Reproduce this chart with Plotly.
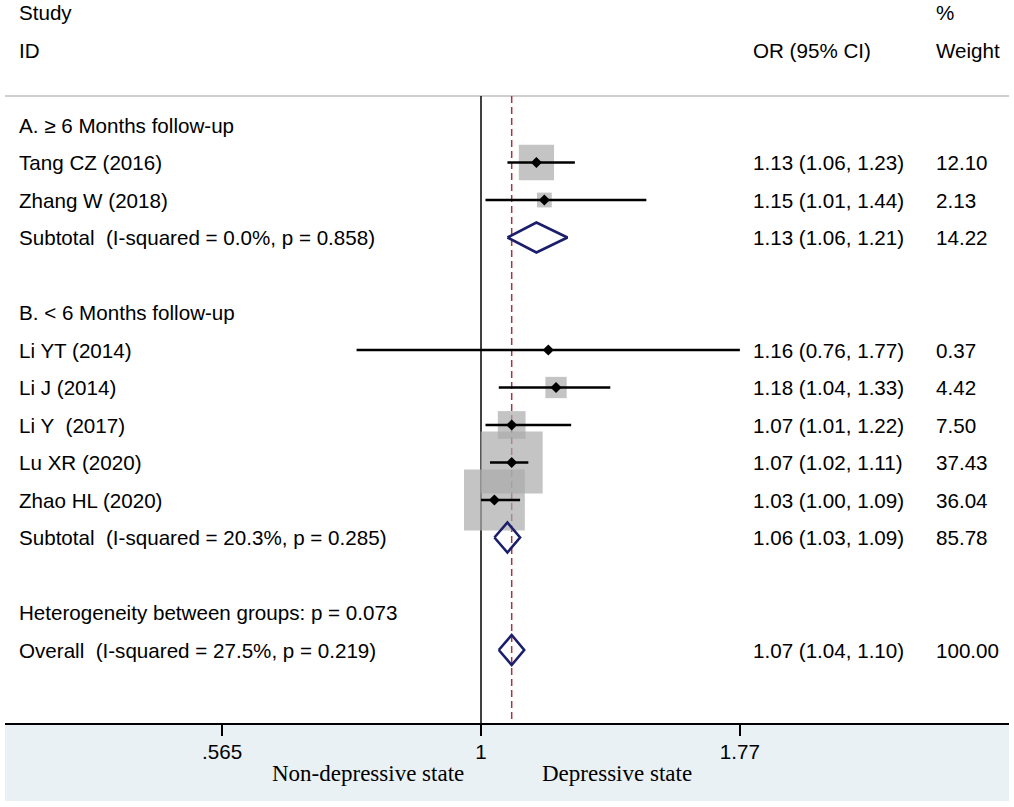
import numpy as np
import plotly.graph_objects as go

# ---------------- data ----------------
study_names = ["Tang CZ (2016)", "Zhang W (2018)", "Li YT (2014)", "Li J (2014)",
               "Li Y\u00a0 (2017)", "Lu XR (2020)", "Zhao HL (2020)"]
study_rows = [4, 5, 9, 10, 11, 12, 13]
study_or = [1.13, 1.15, 1.16, 1.18, 1.07, 1.07, 1.03]
study_lo = [1.06, 1.01, 0.76, 1.04, 1.01, 1.02, 1.00]
study_hi = [1.23, 1.44, 1.77, 1.33, 1.22, 1.11, 1.09]
study_wt = [12.10, 2.13, 0.37, 4.42, 7.50, 37.43, 36.04]

group_labels = ["A. \u2265 6 Months follow-up", "B. &lt; 6 Months follow-up"]
group_rows = [3, 8]

pooled_labels = ["Subtotal\u00a0 (I-squared = 0.0%, p = 0.858)",
                 "Subtotal\u00a0 (I-squared = 20.3%, p = 0.285)",
                 "Overall\u00a0 (I-squared = 27.5%, p = 0.219)"]
pooled_rows = [6, 14, 17]
pooled_or = [1.13, 1.06, 1.07]
pooled_lo = [1.06, 1.03, 1.04]
pooled_hi = [1.21, 1.09, 1.10]
pooled_wt = [14.22, 85.78, 100.00]

het_label = "Heterogeneity between groups: p = 0.073"
het_row = 16

tick_vals = [0.565, 1, 1.77]
tick_text = [".565", "1", "1.77"]
left_label = "Non-depressive state"
right_label = "Depressive state"

# ---------------- layout constants ----------------
W, H = 1014, 807
ML, MR, MT, MB = 5, 5, 0, 84
PLOT_W = W - ML - MR
PLOT_H = H - MT - MB
PX_ONE = 481.0          # pixel of x = 1
PX_PER_LN = 453.4       # pixels per natural-log unit
ROW0, ROWH = 12.5, 37.5  # pixel of row 0, row height

def px_to_log10(p):
    return (p - PX_ONE) / PX_PER_LN / np.log(10)

def xp(p):
    return (p - ML) / PLOT_W

def yp(p):
    return (PLOT_H - (p - MT)) / PLOT_H

y_top = (0 - ROW0) / ROWH
y_bot = (PLOT_H - ROW0) / ROWH
line_top_row = (96 - ROW0) / ROWH

SANS = "Liberation Sans, Arial, sans-serif"
SERIF = "Liberation Serif, Times New Roman, serif"
FS = 20.6

fig = go.Figure()

# boxes (area proportional to weight)
box_sizes = [62 * np.sqrt(w / max(study_wt)) for w in study_wt]
fig.add_trace(go.Scatter(
    x=study_or, y=study_rows, mode="markers",
    marker=dict(symbol="square", size=box_sizes, color="#ABABAB", line=dict(width=0)),
    hoverinfo="skip", showlegend=False))

# CI lines
ci_x, ci_y = [], []
for lo, hi, r in zip(study_lo, study_hi, study_rows):
    ci_x += [lo, hi, None]
    ci_y += [r, r, None]
fig.add_trace(go.Scatter(x=ci_x, y=ci_y, mode="lines",
                         line=dict(color="black", width=2.4),
                         hoverinfo="skip", showlegend=False))

# point estimates
fig.add_trace(go.Scatter(
    x=study_or, y=study_rows, mode="markers",
    marker=dict(symbol="diamond", size=8.5, color="black", line=dict(width=0)),
    hoverinfo="skip", showlegend=False))

# pooled diamonds
dh = 0.4
for es, lo, hi, r in zip(pooled_or, pooled_lo, pooled_hi, pooled_rows):
    fig.add_trace(go.Scatter(
        x=[lo, es, hi, es, lo], y=[r, r - dh, r, r + dh, r], mode="lines",
        line=dict(color="#1B1F6B", width=2.6),
        hoverinfo="skip", showlegend=False))

# ---------------- shapes ----------------
shapes = [
    # bottom band
    dict(type="rect", xref="paper", yref="paper", x0=0, x1=1, y0=yp(801), y1=0,
         fillcolor="#EAF1F4", line=dict(width=0), layer="below"),
    # header separator
    dict(type="line", xref="paper", yref="y", x0=0, x1=1, y0=line_top_row, y1=line_top_row,
         line=dict(color="#CFCFCF", width=2), layer="below"),
    # null line
    dict(type="line", xref="x", yref="y", x0=1, x1=1, y0=line_top_row, y1=y_bot,
         line=dict(color="#111111", width=1.6), layer="below"),
    # overall effect line
    dict(type="line", xref="x", yref="y", x0=pooled_or[-1], x1=pooled_or[-1],
         y0=line_top_row, y1=y_bot,
         line=dict(color="#A8323E", width=1.5, dash="7px,4px"), layer="below"),
]

# ---------------- text ----------------
ann = []
def txt(x_px, row, s, anchor="left", font=None):
    ann.append(dict(xref="paper", yref="y", x=xp(x_px), y=row, text=s,
                    showarrow=False, xanchor=anchor, yanchor="middle",
                    font=font or dict(family=SANS, size=FS, color="black")))

LX, ORX, WX = 17, 751, 934
txt(LX, 0, "Study")
txt(LX, 1, "ID")
txt(ORX, 1, "OR (95% CI)")
txt(WX, 0, "%")
txt(WX, 1, "Weight")
for s, r in zip(group_labels, group_rows):
    txt(LX, r, s)
for s, r, es, lo, hi, w in zip(study_names, study_rows, study_or, study_lo, study_hi, study_wt):
    txt(LX, r, s)
    txt(ORX, r, f"{es:.2f} ({lo:.2f}, {hi:.2f})")
    txt(WX, r, f"{w:.2f}")
for s, r, es, lo, hi, w in zip(pooled_labels, pooled_rows, pooled_or, pooled_lo, pooled_hi, pooled_wt):
    txt(LX, r, s)
    txt(ORX, r, f"{es:.2f} ({lo:.2f}, {hi:.2f})")
    txt(WX, r, f"{w:.2f}")
txt(LX, het_row, het_label)

serif = dict(family=SERIF, size=23, color="black")
ann.append(dict(xref="paper", yref="paper", x=xp(368), y=yp(773), text=left_label,
                showarrow=False, xanchor="center", yanchor="middle", font=serif))
ann.append(dict(xref="paper", yref="paper", x=xp(617), y=yp(773), text=right_label,
                showarrow=False, xanchor="center", yanchor="middle", font=serif))

fig.update_layout(
    width=W, height=H, autosize=False,
    margin=dict(l=ML, r=MR, t=MT, b=MB, pad=0),
    paper_bgcolor="white", plot_bgcolor="white",
    shapes=shapes, annotations=ann, showlegend=False,
    xaxis=dict(type="log", range=[px_to_log10(ML), px_to_log10(W - MR)],
               tickvals=tick_vals, ticktext=tick_text,
               ticks="outside", ticklen=11, tickwidth=1.6, tickcolor="black",
               showline=True, linecolor="black", linewidth=1.6,
               showgrid=False, zeroline=False, ticklabelstandoff=-2,
               tickfont=dict(family=SANS, size=FS, color="black"), fixedrange=True),
    yaxis=dict(range=[y_bot, y_top], visible=False, showgrid=False, zeroline=False,
               fixedrange=True),
)

fig.write_html("out.html", config={"displayModeBar": False},
               post_script="document.body.style.margin='0';document.body.style.overflow='hidden';")
